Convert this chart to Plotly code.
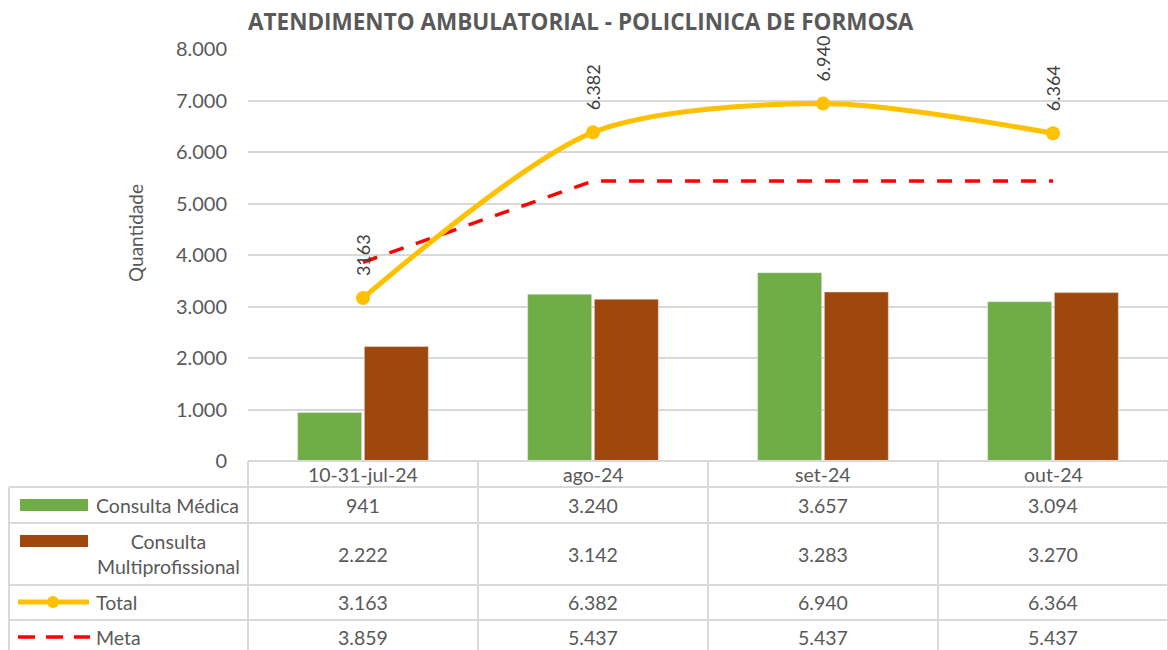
import plotly.graph_objects as go

categories = ["10-31-jul-24", "ago-24", "set-24", "out-24"]
consulta_medica = [941, 3240, 3657, 3094]
consulta_multi = [2222, 3142, 3283, 3270]
total = [3163, 6382, 6940, 6364]
meta = [3859, 5437, 5437, 5437]
total_labels = ["3163", "6.382", "6.940", "6.364"]
series_names = ["Consulta Médica", "Consulta<br>Multiprofissional", "Total", "Meta"]
title_text = "ATENDIMENTO AMBULATORIAL - POLICLINICA DE FORMOSA"
y_title = "Quantidade"

W, H = 1168, 650
L, R, T, B = 248, 0, 49, 189
PW, PH = W - L - R, H - T - B
FONT = "Lato"
TXT = "#595959"
GRID = "#d9d9d9"
GREEN = "#70AD47"
BROWN = "#9E480E"
GOLD = "#FFC000"
RED = "#FF0000"
TS = 19.5


def px(X):
    return (X - L) / PW


def py(Y):
    return (H - B - Y) / PH


def fmt(v):
    return f"{v:,}".replace(",", ".")


fig = go.Figure()
fig.add_bar(x=categories, y=consulta_medica, name="Consulta Médica", marker_color=GREEN)
fig.add_bar(x=categories, y=consulta_multi, name="Consulta Multiprofissional", marker_color=BROWN)
fig.add_scatter(x=categories, y=meta, name="Meta", mode="lines",
                line=dict(color=RED, width=3.5, dash="15px,13px"))
fig.add_scatter(x=categories, y=total, name="Total", mode="lines+markers",
                line=dict(color=GOLD, width=5, shape="spline", smoothing=0.8),
                marker=dict(size=14, color=GOLD))

annotations = []
shapes = []

for c, v, lab in zip(categories, total, total_labels):
    annotations.append(dict(x=c, y=v, xref="x", yref="y", text=lab, textangle=-90,
                            showarrow=False, yanchor="bottom", xanchor="center", yshift=20,
                            font=dict(family=FONT, size=18, color="#404040")))

row_lines = [461, 487, 523, 585, 620]
row_centers = [505, 554, 602, 637]
col_lines = [248, 478, 708, 938, 1168]

for Y in row_lines[1:]:
    shapes.append(dict(type="line", xref="paper", yref="paper", x0=px(9), x1=px(1168),
                       y0=py(Y), y1=py(Y), line=dict(color=GRID, width=2)))
shapes.append(dict(type="line", xref="paper", yref="paper", x0=px(248), x1=px(1168),
                   y0=py(461), y1=py(461), line=dict(color=GRID, width=2)))
for X in col_lines:
    shapes.append(dict(type="line", xref="paper", yref="paper", x0=px(X), x1=px(X),
                       y0=py(461), y1=py(652), line=dict(color=GRID, width=2)))
shapes.append(dict(type="line", xref="paper", yref="paper", x0=px(9), x1=px(9),
                   y0=py(487), y1=py(652), line=dict(color=GRID, width=2)))

for c in categories:
    annotations.append(dict(x=c, y=py(474), xref="x", yref="paper", text=c, showarrow=False,
                            xanchor="center", yanchor="middle",
                            font=dict(family=FONT, size=TS, color=TXT)))

rows = [consulta_medica, consulta_multi, total, meta]
for vals, yc in zip(rows, row_centers):
    for c, v in zip(categories, vals):
        annotations.append(dict(x=c, y=py(yc), xref="x", yref="paper", text=fmt(v),
                                showarrow=False, xanchor="center", yanchor="middle",
                                font=dict(family=FONT, size=TS, color=TXT)))

shapes.append(dict(type="rect", xref="paper", yref="paper", x0=px(20), x1=px(88),
                   y0=py(511), y1=py(499), fillcolor=GREEN, line=dict(width=0)))
shapes.append(dict(type="rect", xref="paper", yref="paper", x0=px(20), x1=px(88),
                   y0=py(547), y1=py(535), fillcolor=BROWN, line=dict(width=0)))
shapes.append(dict(type="line", xref="paper", yref="paper", x0=px(18), x1=px(89),
                   y0=py(602), y1=py(602), line=dict(color=GOLD, width=5)))
shapes.append(dict(type="circle", xref="paper", yref="paper", x0=px(47), x1=px(59),
                   y0=py(608), y1=py(596), fillcolor=GOLD, line=dict(width=0)))
shapes.append(dict(type="line", xref="paper", yref="paper", x0=px(18), x1=px(90),
                   y0=py(637), y1=py(637), line=dict(color=RED, width=3.5, dash="17px,11px")))

for name, X, Y, xa in [(series_names[0], 94, 505, "left"), (series_names[1], 168, 554, "center"),
                       (series_names[2], 94, 602, "left"), (series_names[3], 94, 637, "left")]:
    annotations.append(dict(x=px(X), y=py(Y), xref="paper", yref="paper", text=name,
                            showarrow=False, xanchor=xa, yanchor="middle", align="center",
                            font=dict(family=FONT, size=TS, color=TXT)))

annotations.append(dict(x=px(135), y=py(233), xref="paper", yref="paper", text=y_title,
                        textangle=-90, showarrow=False, xanchor="center", yanchor="middle",
                        font=dict(family=FONT, size=19, color=TXT)))
annotations.append(dict(x=px(581), y=py(21), xref="paper", yref="paper", text="<b>" + title_text + "</b>",
                        showarrow=False, xanchor="center", yanchor="middle",
                        font=dict(family="Open Sans", size=22.5, color=TXT)))

fig.update_layout(
    width=W, height=H,
    margin=dict(l=L, r=R, t=T, b=B, pad=0),
    paper_bgcolor="white", plot_bgcolor="white",
    showlegend=False,
    barmode="group", bargap=0.42, bargroupgap=0.04,
    separators=",.",
    font=dict(family=FONT, color=TXT),
    xaxis=dict(type="category", range=[-0.5, 3.5], showticklabels=False, showgrid=False,
               zeroline=False, showline=False, ticks=""),
    yaxis=dict(range=[0, 8000], dtick=1000, tickformat=",.0f", showgrid=True, gridcolor=GRID,
               gridwidth=2, zeroline=False, showline=False, ticks="", ticklabelstandoff=20,
               tickfont=dict(family=FONT, size=20, color=TXT)),
    annotations=annotations, shapes=shapes,
)

fig.write_html("out.html", post_script="document.body.style.margin='0';",
               config={"displayModeBar": False})
